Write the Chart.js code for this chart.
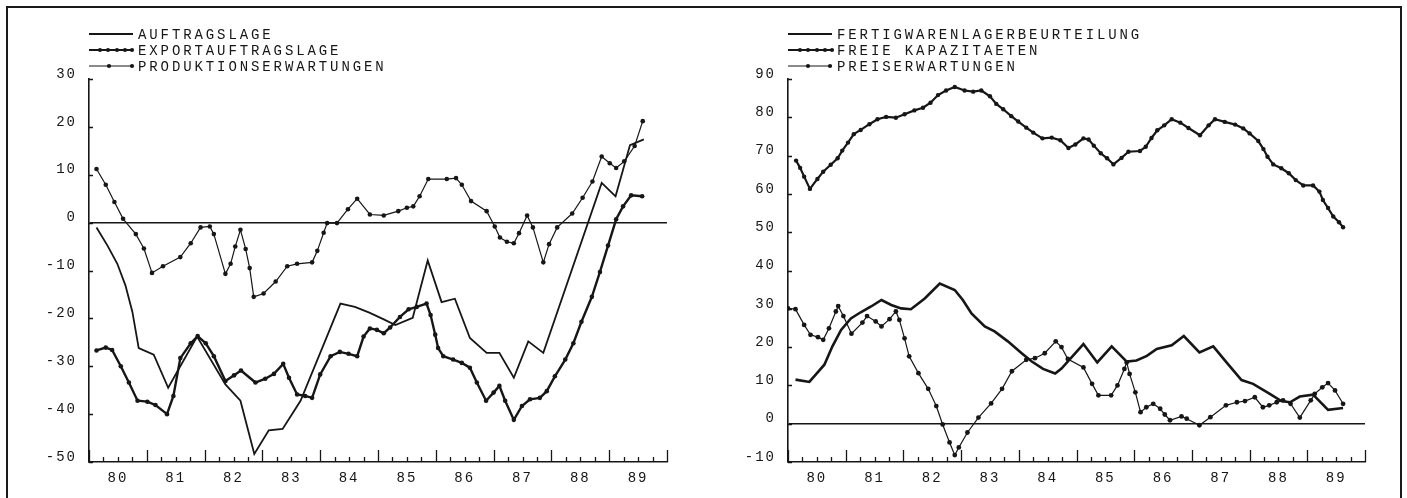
<!DOCTYPE html>
<html>
<head>
<meta charset="utf-8">
<script src="https://cdn.jsdelivr.net/npm/chart.js@4.4.0/dist/chart.umd.min.js"></script>
<style>
html, body { margin: 0; padding: 0; background: #fff; }
#page { position: relative; width: 1407px; height: 498px; overflow: hidden; }
#frame { position: absolute; left: 6px; top: 6px; width: 1396px; height: 530px; border: 2px solid #1a1a1a; box-sizing: border-box; }
#left { position: absolute; left: 0; top: 0; }
#right { position: absolute; left: 700px; top: 0; }
</style>
</head>
<body>
<div id="page">
  <div id="frame"></div>
  <canvas id="left" width="700" height="498"></canvas>
  <canvas id="right" width="707" height="498"></canvas>
</div>
<script>
// tick labels
var yearLabels = ['80', '81', '82', '83', '84', '85', '86', '87', '88', '89'];
var leftTicks = [30, 20, 10, 0, -10, -20, -30, -40, -50];
var rightTicks = [90, 80, 70, 60, 50, 40, 30, 20, 10, 0, -10];

// left panel
var auftragX = [1980.13, 1980.32, 1980.49, 1980.63, 1980.75, 1980.86, 1981.12, 1981.37, 1981.87, 1982.36, 1982.62, 1982.86, 1983.11, 1983.35, 1983.66, 1984.35, 1984.6, 1984.85, 1985.1, 1985.3, 1985.6, 1985.86, 1986.1, 1986.33, 1986.59, 1986.88, 1987.1, 1987.35, 1987.6, 1987.86, 1988.87, 1989.11, 1989.36, 1989.6];
var auftragY = [-1.0, -4.8, -8.6, -13.1, -18.6, -26.2, -27.6, -34.5, -23.8, -33.8, -37.2, -48.3, -43.4, -43.1, -37.2, -16.9, -17.6, -18.8, -20.2, -21.4, -19.9, -7.9, -16.6, -15.9, -24.1, -27.2, -27.2, -32.4, -24.8, -27.2, 8.3, 5.5, 16.2, 17.4];

var exportX = [1980.13, 1980.29, 1980.40, 1980.55, 1980.69, 1980.84, 1981.01, 1981.15, 1981.35, 1981.46, 1981.58, 1981.76, 1981.88, 1982.02, 1982.16, 1982.36, 1982.51, 1982.63, 1982.88, 1983.05, 1983.20, 1983.36, 1983.46, 1983.60, 1983.74, 1983.86, 1984.00, 1984.18, 1984.34, 1984.49, 1984.64, 1984.75, 1984.86, 1984.98, 1985.10, 1985.21, 1985.38, 1985.53, 1985.67, 1985.84, 1985.91, 1985.99, 1986.04, 1986.13, 1986.30, 1986.45, 1986.59, 1986.71, 1986.87, 1987.00, 1987.10, 1987.20, 1987.35, 1987.49, 1987.63, 1987.80, 1987.92, 1988.06, 1988.24, 1988.38, 1988.52, 1988.70, 1988.84, 1988.98, 1989.12, 1989.24, 1989.38, 1989.57];
var exportY = [-26.7, -26.1, -26.6, -30.0, -33.4, -37.2, -37.4, -38.1, -40.0, -36.2, -28.3, -25.2, -23.7, -25.2, -27.9, -33.1, -31.9, -30.9, -33.4, -32.6, -31.6, -29.5, -32.4, -35.9, -36.2, -36.6, -31.7, -27.9, -27.0, -27.4, -27.9, -23.8, -22.1, -22.4, -23.1, -21.9, -19.7, -18.1, -17.6, -16.9, -19.3, -23.4, -26.2, -27.9, -28.6, -29.3, -30.3, -33.4, -37.2, -35.5, -34.1, -37.2, -41.2, -38.3, -36.9, -36.6, -35.2, -32.1, -28.6, -25.2, -20.7, -15.5, -10.3, -4.8, 0.7, 3.4, 5.7, 5.5];

var prodX = [1980.13, 1980.29, 1980.44, 1980.59, 1980.81, 1980.95, 1981.09, 1981.28, 1981.58, 1981.76, 1981.93, 1982.09, 1982.16, 1982.36, 1982.45, 1982.53, 1982.62, 1982.71, 1982.78, 1982.85, 1983.02, 1983.23, 1983.43, 1983.60, 1983.86, 1983.95, 1984.06, 1984.12, 1984.29, 1984.48, 1984.64, 1984.86, 1985.10, 1985.35, 1985.50, 1985.61, 1985.72, 1985.87, 1986.19, 1986.35, 1986.45, 1986.61, 1986.88, 1987.02, 1987.11, 1987.23, 1987.35, 1987.44, 1987.58, 1987.68, 1987.86, 1987.96, 1988.10, 1988.36, 1988.54, 1988.71, 1988.87, 1989.01, 1989.12, 1989.26, 1989.44, 1989.58];
var prodY = [11.2, 7.9, 4.3, 0.8, -2.4, -5.4, -10.5, -9.1, -7.2, -4.3, -1.0, -0.8, -2.4, -10.7, -8.6, -5.0, -1.5, -5.5, -9.5, -15.5, -14.8, -12.3, -9.1, -8.6, -8.3, -5.9, -2.1, -0.1, -0.1, 2.8, 5.0, 1.7, 1.5, 2.4, 3.1, 3.4, 5.5, 9.1, 9.1, 9.3, 7.9, 4.5, 2.4, -0.8, -3.1, -4.0, -4.3, -2.2, 1.5, -1.0, -8.3, -4.5, -1.0, 1.9, 5.2, 8.6, 13.8, 12.4, 11.4, 12.8, 16.0, 21.2];

// right panel
var lagerX = [1980.13, 1980.37, 1980.48, 1980.63, 1980.77, 1980.92, 1981.09, 1981.26, 1981.44, 1981.62, 1981.79, 1981.96, 1982.13, 1982.37, 1982.63, 1982.89, 1983.03, 1983.18, 1983.41, 1983.58, 1983.81, 1984.05, 1984.22, 1984.42, 1984.63, 1984.74, 1985.12, 1985.36, 1985.61, 1985.87, 1986.04, 1986.22, 1986.39, 1986.65, 1986.86, 1987.13, 1987.37, 1987.60, 1987.86, 1988.06, 1988.35, 1988.55, 1988.70, 1988.87, 1989.10, 1989.36, 1989.62];
var lagerY = [11.5, 10.9, 12.8, 15.4, 20.2, 24.5, 27.5, 29.1, 30.6, 32.3, 31.0, 30.1, 29.9, 32.7, 36.6, 34.9, 32.3, 28.8, 25.4, 24.1, 21.5, 18.4, 16.3, 14.3, 13.1, 14.4, 20.8, 16.0, 20.2, 16.2, 16.5, 17.7, 19.5, 20.5, 22.9, 18.6, 20.2, 16.0, 11.4, 10.4, 7.8, 5.9, 5.6, 7.1, 7.6, 3.6, 4.1];

var kapX = [1980.14, 1980.21, 1980.28, 1980.38, 1980.51, 1980.61, 1980.74, 1980.86, 1980.94, 1981.04, 1981.14, 1981.26, 1981.41, 1981.55, 1981.70, 1981.87, 1982.02, 1982.19, 1982.34, 1982.47, 1982.60, 1982.74, 1982.89, 1983.06, 1983.21, 1983.35, 1983.50, 1983.61, 1983.73, 1983.87, 1983.99, 1984.13, 1984.25, 1984.41, 1984.57, 1984.72, 1984.86, 1984.98, 1985.12, 1985.21, 1985.30, 1985.42, 1985.53, 1985.64, 1985.78, 1985.90, 1986.10, 1986.20, 1986.30, 1986.40, 1986.52, 1986.65, 1986.80, 1986.94, 1987.14, 1987.29, 1987.40, 1987.57, 1987.75, 1987.89, 1988.00, 1988.15, 1988.24, 1988.31, 1988.41, 1988.55, 1988.68, 1988.80, 1988.93, 1989.10, 1989.21, 1989.27, 1989.36, 1989.45, 1989.55, 1989.62];
var kapY = [68.7, 66.8, 64.5, 61.3, 63.9, 65.8, 67.6, 69.3, 71.3, 73.4, 75.6, 76.7, 78.2, 79.5, 80.1, 79.9, 80.8, 81.8, 82.5, 83.8, 85.8, 87.0, 87.9, 87.0, 86.7, 87.0, 85.5, 83.5, 82.1, 80.3, 78.9, 77.3, 76.0, 74.5, 74.7, 74.0, 72.0, 72.9, 74.5, 74.2, 72.6, 70.6, 69.3, 67.7, 69.4, 71.0, 71.2, 72.3, 74.6, 76.6, 77.9, 79.5, 78.6, 77.2, 75.3, 77.9, 79.5, 78.8, 78.1, 77.1, 75.8, 73.8, 71.7, 69.7, 67.7, 66.7, 65.4, 63.6, 62.2, 62.2, 60.6, 58.4, 56.3, 54.1, 52.6, 51.3];

var preisX = [1980.0, 1980.13, 1980.28, 1980.39, 1980.52, 1980.61, 1980.71, 1980.83, 1980.87, 1980.96, 1981.10, 1981.29, 1981.37, 1981.52, 1981.62, 1981.76, 1981.87, 1981.93, 1982.02, 1982.10, 1982.26, 1982.43, 1982.57, 1982.68, 1982.80, 1982.89, 1982.96, 1983.11, 1983.30, 1983.52, 1983.71, 1983.88, 1984.13, 1984.28, 1984.45, 1984.64, 1984.74, 1984.85, 1985.12, 1985.27, 1985.38, 1985.60, 1985.71, 1985.83, 1985.87, 1985.92, 1986.02, 1986.11, 1986.21, 1986.33, 1986.45, 1986.53, 1986.62, 1986.82, 1986.91, 1987.13, 1987.32, 1987.59, 1987.78, 1987.92, 1988.09, 1988.23, 1988.34, 1988.47, 1988.58, 1988.71, 1988.87, 1989.06, 1989.13, 1989.26, 1989.36, 1989.48, 1989.62];
var preisY = [30.1, 29.9, 25.8, 23.2, 22.6, 21.9, 24.9, 29.3, 30.7, 28.1, 23.5, 26.4, 28.1, 26.7, 25.4, 27.3, 29.3, 27.1, 22.3, 17.6, 13.2, 9.1, 4.6, -0.2, -4.9, -8.2, -6.2, -2.3, 1.6, 5.3, 9.1, 13.7, 16.7, 17.1, 18.4, 21.5, 20.0, 16.9, 14.7, 10.4, 7.4, 7.4, 10.0, 14.3, 16.0, 13.0, 8.2, 3.0, 4.3, 5.2, 3.9, 2.4, 0.9, 1.9, 1.3, -0.4, 1.7, 4.8, 5.6, 5.9, 6.9, 4.3, 4.8, 5.6, 6.1, 5.2, 1.6, 6.1, 7.8, 9.5, 10.6, 8.7, 5.2];

var INK = '#161616';
var FONT = '"Liberation Mono", "DejaVu Sans Mono", monospace';

function toPoints(xs, ys) {
    var pts = [];
    for (var i = 0; i < Math.min(xs.length, ys.length); i++) {
        pts.push({x: xs[i], y: ys[i]});
    }
    return pts;
}

function series(label, xs, ys, width, radius, dots) {
    return {
        label: label,
        data: toPoints(xs, ys),
        borderColor: INK,
        borderWidth: width,
        pointRadius: radius,
        pointBackgroundColor: INK,
        pointBorderWidth: 0,
        tension: 0,
        legendDots: dots
    };
}

// legend drawn like the plotter key: sample line with dots, then the name
var keyPlugin = {
    id: 'plotKey',
    afterDraw: function(chart) {
        var ctx = chart.ctx;
        var x0 = chart.chartArea.left;
        ctx.save();
        ctx.font = '14px ' + FONT;
        ctx.letterSpacing = '2.9px';
        ctx.textBaseline = 'middle';
        ctx.fillStyle = INK;
        ctx.strokeStyle = INK;
        chart.data.datasets.forEach(function(ds, i) {
            var y = 34 + i * 16;
            ctx.lineWidth = Math.min(ds.borderWidth, 2);
            ctx.beginPath();
            ctx.moveTo(x0, y);
            ctx.lineTo(x0 + 44, y);
            ctx.stroke();
            ds.legendDots.forEach(function(d) {
                ctx.beginPath();
                ctx.arc(x0 + d, y, 2.1, 0, 2 * Math.PI);
                ctx.fill();
            });
            ctx.fillText(ds.label, x0 + 49, y + 1);
        });
        ctx.restore();
    }
};

// short tick marks pointing into the plot
var tickPlugin = {
    id: 'innerTicks',
    beforeDraw: function(chart) {
        chart.ctx.letterSpacing = '2px';
    },
    afterDraw: function(chart) {
        var ctx = chart.ctx;
        var xs = chart.scales.x, ys = chart.scales.y;
        var bottom = chart.chartArea.bottom, left = chart.chartArea.left;
        ctx.save();
        ctx.strokeStyle = INK;
        ctx.lineWidth = 1.3;
        ctx.beginPath();
        for (var q = 0; q <= 40; q++) {
            var px = Math.round(xs.getPixelForValue(1980 + q / 4)) + 0.5;
            var len = (q % 4 === 0) ? 12 : 5;
            ctx.moveTo(px, bottom);
            ctx.lineTo(px, bottom - len);
        }
        ys.ticks.forEach(function(t) {
            var py = Math.round(ys.getPixelForValue(t.value)) + 0.5;
            ctx.moveTo(left, py);
            ctx.lineTo(left + 4, py);
        });
        ctx.stroke();
        ctx.restore();
    }
};

function makeChart(id, datasets, yTicks, axisLeft, padRight) {
    return new Chart(document.getElementById(id), {
        type: 'line',
        data: {datasets: datasets},
        options: {
            responsive: false,
            animation: false,
            layout: {padding: {top: 79, right: padRight, left: 0, bottom: 0}},
            plugins: {
                legend: {display: false},
                tooltip: {enabled: false}
            },
            scales: {
                x: {
                    type: 'linear',
                    min: 1980,
                    max: 1990,
                    afterBuildTicks: function(s) {
                        s.ticks = yearLabels.map(function(_, i) { return {value: 1980.5 + i}; });
                    },
                    afterFit: function(s) { s.height = 36; },
                    ticks: {
                        autoSkip: false,
                        maxRotation: 0,
                        padding: 8,
                        color: INK,
                        font: {family: FONT, size: 14},
                        callback: function(v) { return yearLabels[Math.floor(v - 1980)]; }
                    },
                    grid: {display: false, drawTicks: false},
                    border: {display: true, color: INK, width: 1.6}
                },
                y: {
                    min: yTicks[yTicks.length - 1],
                    max: yTicks[0],
                    afterBuildTicks: function(s) {
                        s.ticks = yTicks.map(function(v) { return {value: v}; });
                    },
                    afterFit: function(s) { s.width = axisLeft; },
                    ticks: {
                        padding: 12,
                        labelOffset: -5,
                        color: INK,
                        font: {family: FONT, size: 14},
                        callback: function(v) { return String(v); }
                    },
                    grid: {
                        drawTicks: false,
                        lineWidth: 1.6,
                        color: function(c) { return (c.tick && c.tick.value === 0) ? INK : 'rgba(0,0,0,0)'; }
                    },
                    border: {display: true, color: INK, width: 1.6}
                }
            }
        },
        plugins: [tickPlugin, keyPlugin]
    });
}

makeChart('left', [
    series('AUFTRAGSLAGE', auftragX, auftragY, 1.8, 0, []),
    series('EXPORTAUFTRAGSLAGE', exportX, exportY, 2.4, 2.3, [11, 19, 28, 36, 43]),
    series('PRODUKTIONSERWARTUNGEN', prodX, prodY, 1.2, 2.3, [20, 43])
], leftTicks, 89, 33);

makeChart('right', [
    series('FERTIGWARENLAGERBEURTEILUNG', lagerX, lagerY, 2.6, 0, []),
    series('FREIE KAPAZITAETEN', kapX, kapY, 2.2, 2.2, [12, 20, 29, 37, 44]),
    series('PREISERWARTUNGEN', preisX, preisY, 1.2, 2.4, [20, 42])
], rightTicks, 88, 42);
</script>
</body>
</html>
